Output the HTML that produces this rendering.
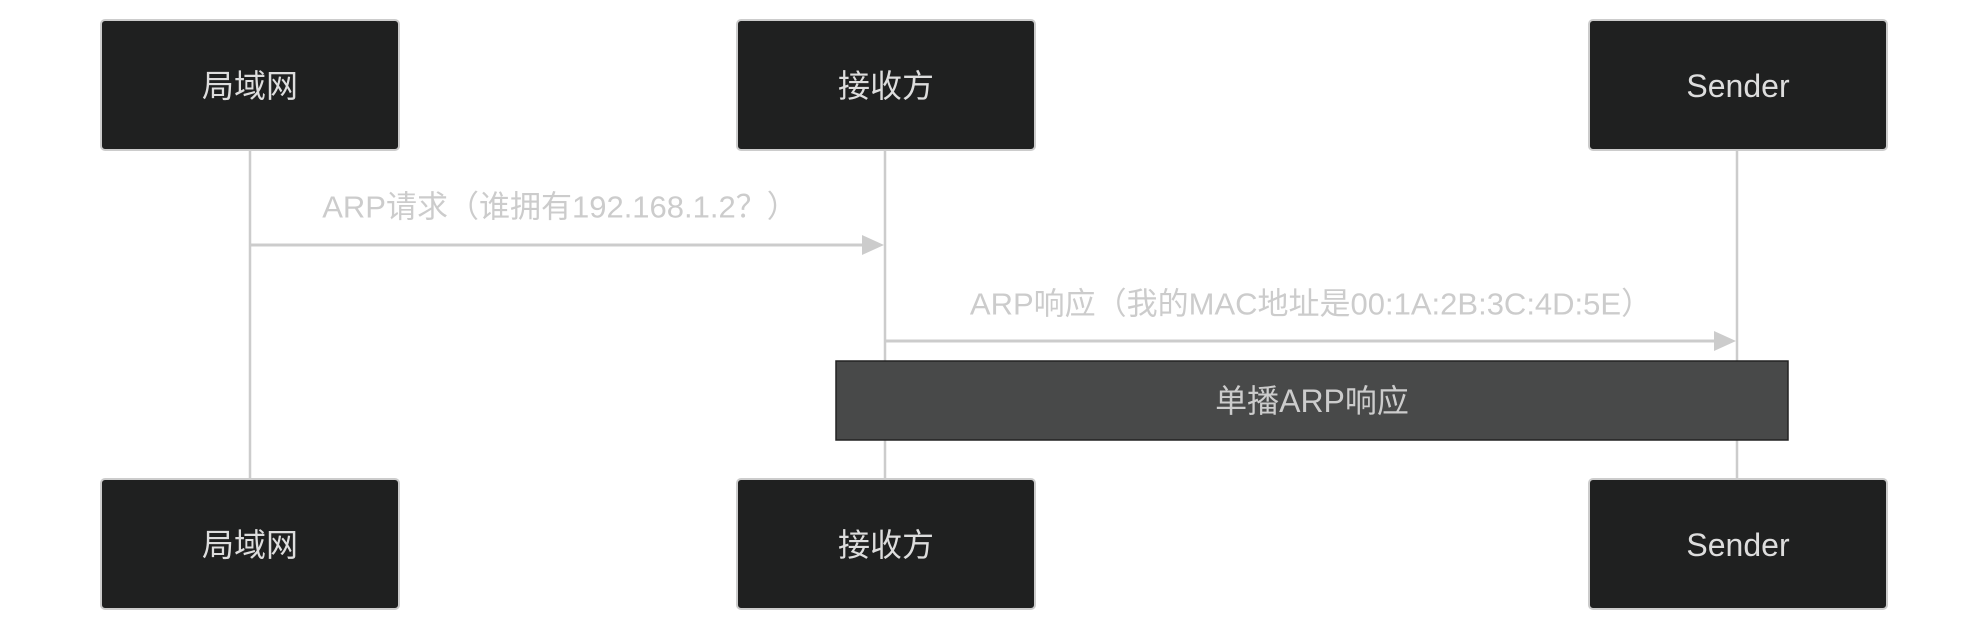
<!DOCTYPE html>
<html><head><meta charset="utf-8"><style>
html,body{margin:0;padding:0;background:#fff;}
svg text{font-family:"Liberation Sans","Noto Sans CJK SC",sans-serif;}
</style></head><body>
<svg width="1988" height="632" viewBox="0 0 1988 632" xmlns="http://www.w3.org/2000/svg">
<g stroke="#cccccc" stroke-width="2.5">
<line x1="250" y1="150" x2="250" y2="479"/>
<line x1="885" y1="150" x2="885" y2="479"/>
<line x1="1737" y1="150" x2="1737" y2="479"/>
</g>
<g fill="#1f2020" stroke="#cccccc" stroke-width="2">
<rect x="101" y="20" width="298" height="130" rx="4"/>
<rect x="737" y="20" width="298" height="130" rx="4"/>
<rect x="1589" y="20" width="298" height="130" rx="4"/>
<rect x="101" y="479" width="298" height="130" rx="4"/>
<rect x="737" y="479" width="298" height="130" rx="4"/>
<rect x="1589" y="479" width="298" height="130" rx="4"/>
</g>
<g fill="#dddddd" font-size="32" text-anchor="middle" dominant-baseline="central">
<text x="250" y="86">局域网</text>
<text x="886" y="86">接收方</text>
<text x="1738" y="86">Sender</text>
<text x="250" y="545">局域网</text>
<text x="886" y="545">接收方</text>
<text x="1738" y="545">Sender</text>
</g>
<g stroke="#cccccc" stroke-width="3">
<line x1="250" y1="245" x2="866" y2="245"/>
<line x1="885" y1="341" x2="1718" y2="341"/>
</g>
<polygon points="862,235 884,245 862,255" fill="#cccccc"/>
<polygon points="1714,331 1736,341 1714,351" fill="#cccccc"/>
<g fill="#cccccc" font-size="31" text-anchor="middle" dominant-baseline="central">
<text x="560" y="207">ARP请求（谁拥有192.168.1.2？）</text>
<text x="1311" y="304">ARP响应（我的MAC地址是00:1A:2B:3C:4D:5E）</text>
</g>
<rect x="836" y="361" width="952" height="79" fill="#484949" stroke="#222" stroke-width="1.5"/>
<text x="1312" y="401" fill="#cccccc" font-size="32" text-anchor="middle" dominant-baseline="central">单播ARP响应</text>
</svg>
</body></html>
